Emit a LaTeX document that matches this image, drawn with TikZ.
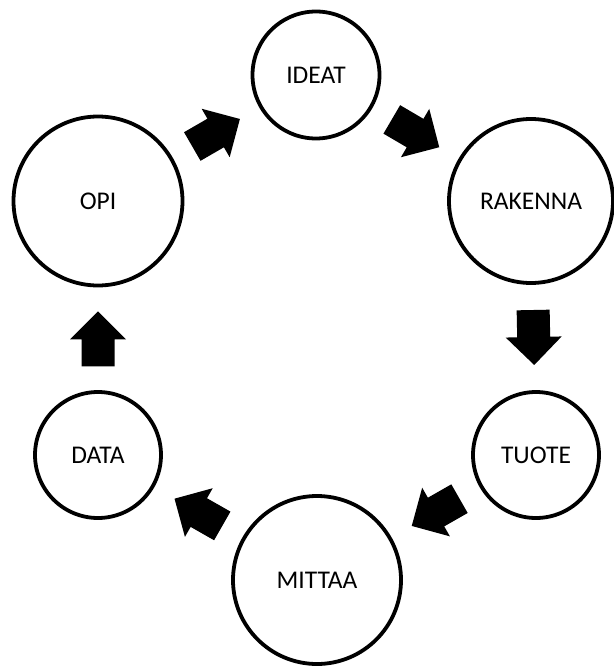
\documentclass[tikz,border=0pt]{standalone}
\usepackage{fontspec}
\setmainfont{Carlito}
\usetikzlibrary{calc}
\newcommand\bigarrow[3]{% from node #1 to node #2, centre coordinate #3
  \path (#1) -- coordinate[midway] (#3) (#2);
  \fill[blockfill]
    ($(#3)!27.5pt!(#2)$)
    -- ($($(#3)!-0.5pt!(#2)$)!28pt!90:(#2)$)
    -- ($($(#3)!-0.5pt!(#2)$)!16.5pt!90:(#2)$)
    -- ($($(#3)!-27.5pt!(#2)$)!16.5pt!90:(#2)$)
    -- ($($(#3)!-27.5pt!(#2)$)!16.5pt!-90:(#2)$)
    -- ($($(#3)!-0.5pt!(#2)$)!16.5pt!-90:(#2)$)
    -- ($($(#3)!-0.5pt!(#2)$)!28pt!-90:(#2)$)
    -- cycle;}
\begin{document}
\begin{tikzpicture}[x=1pt,y=-1pt,
  stage/.style={circle, draw=black, line width=3.8pt, inner sep=0pt,
    font=\fontsize{25.5}{30}\selectfont},
  blockfill/.style={fill=black}]
\useasboundingbox (0,0) rectangle (613,666);
\node[stage, minimum size=127pt] (ideat)   at (316,75)  {IDEAT};
\node[stage, minimum size=164pt] (rakenna) at (531,201) {RAKENNA};
\node[stage, minimum size=126pt] (tuote)   at (536,455) {TUOTE};
\node[stage, minimum size=168pt] (mittaa)  at (317,580) {MITTAA};
\node[stage, minimum size=126pt] (data)    at (98,455)  {DATA};
\node[stage, minimum size=169pt] (opi)     at (98,201)  {OPI};
\bigarrow{opi}{ideat}{m1}
\bigarrow{ideat}{rakenna}{m2}
\bigarrow{rakenna}{tuote}{m3}
\bigarrow{tuote}{mittaa}{m4}
\bigarrow{mittaa}{data}{m5}
\bigarrow{data}{opi}{m6}
\end{tikzpicture}
\end{document}
